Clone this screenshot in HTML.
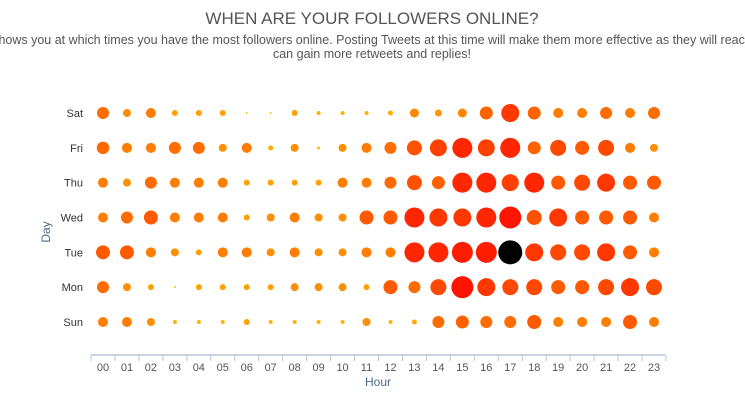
<!DOCTYPE html>
<html><head><meta charset="utf-8"><style>
body{margin:0;background:#fff;width:745px;height:400px;overflow:hidden;font-family:"Liberation Sans",sans-serif}
</style></head><body>
<svg id="chart" width="745" height="400" xmlns="http://www.w3.org/2000/svg" font-family="Liberation Sans, sans-serif">
<text x="372" y="24" text-anchor="middle" font-size="17" fill="#555">WHEN ARE YOUR FOLLOWERS ONLINE?</text>
<text x="372" y="44" text-anchor="middle" font-size="12.5" fill="#555">shows you at which times you have the most followers online. Posting Tweets at this time will make them more effective as they will reach</text>
<text x="372" y="58" text-anchor="middle" font-size="12.5" fill="#555">can gain more retweets and replies!</text>
<line x1="91" y1="355" x2="665" y2="355" stroke="#b8c4d8" stroke-width="1.5"/>
<text x="378" y="386" text-anchor="middle" font-size="12" fill="#4a6a8a">Hour</text>
<text transform="translate(50,232) rotate(-90)" text-anchor="middle" font-size="12" fill="#4a6a8a">Day</text>
<g id="marks"></g>
</svg>
<script>
const days = ["Sat","Fri","Thu","Wed","Tue","Mon","Sun"];
const hours = ["00","01","02","03","04","05","06","07","08","09","10","11","12","13","14","15","16","17","18","19","20","21","22","23"];
const satValues = [12,8,10,6,6,6,2,2,6,4,4,4,5,9,7,9,13,18,13,10,10,12,10,12];
const friValues = [12.5,10,10,12,12,8,10,5,8,3,8,10,12,15,17,20,17,20,13,16,14,16,10,8];
const thuValues = [10,8,12,10,10,10,6,6,6,6,10,10,12,15,13,20,20,17,20,14,16,18,14,14];
const wedValues = [10,12,14,10,10,10,6,8,10,8,8,14,14,20,18,18,20,22,15,18,14,14,14,10];
const tueValues = [14,14,10,8,6,10,10,8,10,8,8,10,10,20,20,21,21,24,18,16,16,18,14,10];
const monValues = [12,8,6,2,6,6,6,6,8,8,8,6,14,12,16,22,18,16,16,14,14,16,18,16];
const sunValues = [10,10,8,4,4,4,6,4,4,4,4,8,4,5,12,13,12,12,14,10,10,10,14,10];
const seriesValues = [satValues,friValues,thuValues,wedValues,tueValues,monValues,sunValues];

const NS="http://www.w3.org/2000/svg";
const svg=document.getElementById('chart');
const g=document.getElementById('marks');
function xScale(i){return 103+i*(654-103)/23;}
function yScale(j){return 113+j*(322-113)/6;}
let maxV=0;
seriesValues.forEach(r=>r.forEach(v=>{if(v>maxV)maxV=v;}));
function rScale(v){return v/2;}
function color(v){
  if(v>=maxV) return "#000";
  const t=Math.max(0,Math.min(1,(v-2)/20));
  const gC=Math.round(196-t*(196-20));
  return "rgb(255,"+gC+",0)";
}
days.forEach((d,j)=>{
  const t=document.createElementNS(NS,'text');
  
  
  t.setAttribute('x',83);t.setAttribute('y',yScale(j)+4);
  t.setAttribute('text-anchor','end');t.setAttribute('font-size','11');t.setAttribute('fill','#333');
  t.textContent=d;svg.appendChild(t);
});
hours.forEach((h,i)=>{
  const t=document.createElementNS(NS,'text');
  
  
  t.setAttribute('x',xScale(i));t.setAttribute('y',371);
  t.setAttribute('text-anchor','middle');t.setAttribute('font-size','11');t.setAttribute('fill','#555');
  t.textContent=h;svg.appendChild(t);
});
for(let i=0;i<=hours.length;i++){
  const l=document.createElementNS(NS,'line');
  
  
  const x=xScale(i)-12;
  l.setAttribute('x1',x);l.setAttribute('x2',x);l.setAttribute('y1',355);l.setAttribute('y2',361);
  l.setAttribute('stroke','#b8c4d8');svg.appendChild(l);
}
seriesValues.forEach((row,j)=>{
  row.forEach((v,i)=>{
    const c=document.createElementNS(NS,'circle');
    
    
    c.setAttribute('cx',xScale(i));c.setAttribute('cy',yScale(j));
    c.setAttribute('r',rScale(v));c.setAttribute('fill',color(v));
    g.appendChild(c);
  });
});
</script>
</body></html>
